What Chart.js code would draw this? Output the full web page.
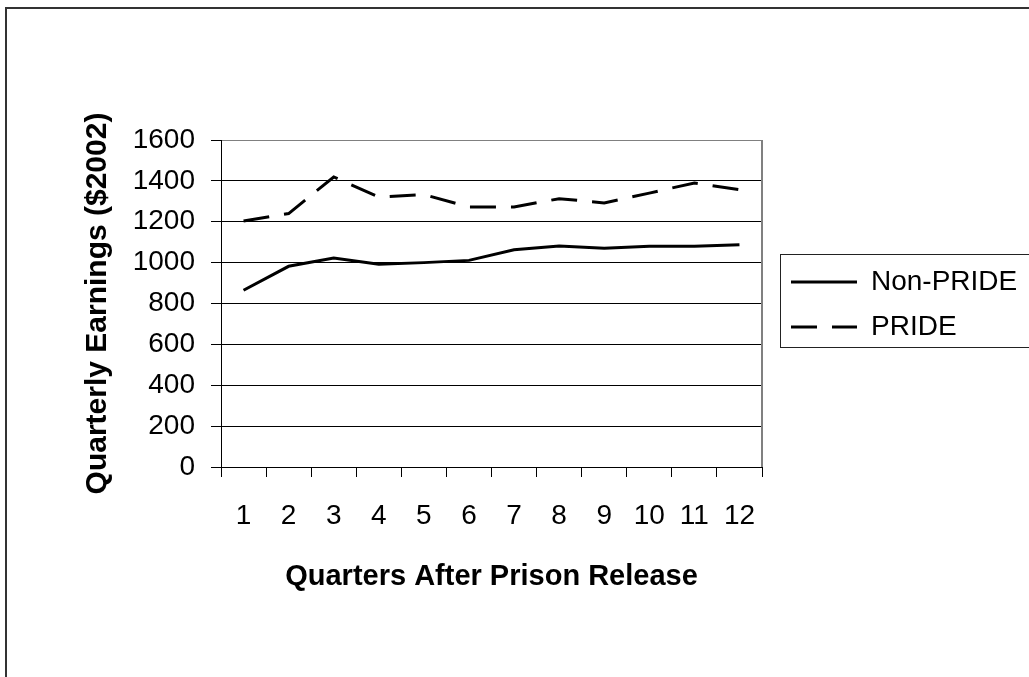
<!DOCTYPE html>
<html>
<head>
<meta charset="utf-8">
<title>Quarterly Earnings After Prison Release</title>
<script src="https://cdn.jsdelivr.net/npm/chart.js@4/dist/chart.umd.min.js"></script>
<style>
  html, body { margin: 0; padding: 0; background: #fff; }
  #wrap { width: 1029px; height: 677px; }
</style>
</head>
<body>
<div id="wrap"><canvas id="earnings-chart" width="1029" height="677"></canvas></div>
<script>
const quarters = ["1", "2", "3", "4", "5", "6", "7", "8", "9", "10", "11", "12"];
const nonPrideEarnings = [865, 982, 1022, 992, 1000, 1011, 1063, 1081, 1070, 1080, 1080, 1088];
const prideEarnings = [1204, 1240, 1419, 1321, 1333, 1272, 1272, 1313, 1292, 1340, 1390, 1357];
const earningsTicks = [0, 200, 400, 600, 800, 1000, 1200, 1400, 1600];

const FONT = "'Liberation Sans', Arial, sans-serif";

// frame, legend placement and the grey plot border
const framePlugin = {
    id: "framePlugin",
    beforeLayout(chart) {
        const legend = chart.legend;
        if (legend && !legend.fitWrapped) {
            const fit = legend.fit;
            legend.fit = function () {
                fit.call(this);
                this.width = 267;
            };
            legend.fitWrapped = true;
        }
    },
    afterLayout(chart) {
        const legend = chart.legend;
        legend.left = 774;
        legend.right = 1029;
        legend.top = 251;
        legend.bottom = 677;
    },
    beforeDraw(chart) {
        const ctx = chart.ctx;
        ctx.save();
        ctx.fillStyle = "#fff";
        ctx.fillRect(0, 0, chart.width, chart.height);
        ctx.restore();
    },
    afterDraw(chart) {
        const ctx = chart.ctx;
        const area = chart.chartArea;
        ctx.save();
        // right edge of plot area
        ctx.strokeStyle = "#808080";
        ctx.lineWidth = 2;
        ctx.beginPath();
        ctx.moveTo(area.right, area.top);
        ctx.lineTo(area.right, area.bottom);
        ctx.stroke();
        // legend box (runs off the right edge)
        ctx.strokeStyle = "#222";
        ctx.lineWidth = 1;
        ctx.strokeRect(780.5, 254.5, 300, 93);
        // outer chart frame
        ctx.strokeStyle = "#333";
        ctx.lineWidth = 2;
        ctx.strokeRect(6, 8, 1100, 750);
        ctx.restore();
    }
};

new Chart(document.getElementById("earnings-chart").getContext("2d"), {
    type: "line",
    data: {
        labels: quarters,
        datasets: [{
            label: "Non-PRIDE",
            data: nonPrideEarnings,
            borderColor: "#000",
            backgroundColor: "#000",
            borderWidth: 3,
            pointRadius: 0,
            tension: 0,
            fill: false,
            pointStyle: "line"
        }, {
            label: "PRIDE",
            data: prideEarnings,
            borderColor: "#000",
            backgroundColor: "#000",
            borderWidth: 3,
            borderDash: [26, 15],
            pointRadius: 0,
            tension: 0,
            fill: false,
            pointStyle: "line"
        }]
    },
    options: {
        responsive: false,
        animation: false,
        devicePixelRatio: 1,
        layout: {
            padding: { top: 140, left: 0, right: 0, bottom: 0 }
        },
        plugins: {
            title: { display: false },
            tooltip: { enabled: false },
            legend: {
                display: true,
                position: "right",
                align: "start",
                labels: {
                    usePointStyle: true,
                    pointStyleWidth: 66,
                    boxHeight: 28,
                    padding: 17,
                    color: "#000",
                    font: { family: FONT, size: 28 },
                    // keep the line dash and width of each series in the legend sample
                    generateLabels(chart) {
                        const items = Chart.defaults.plugins.legend.labels.generateLabels(chart);
                        items.forEach(item => {
                            const ds = chart.data.datasets[item.datasetIndex];
                            item.lineDash = ds.borderDash || [];
                            item.lineWidth = ds.borderWidth;
                            item.strokeStyle = ds.borderColor;
                        });
                        return items;
                    }
                }
            }
        },
        scales: {
            x: {
                offset: true,
                afterFit(scale) { scale.height = 210; },
                grid: {
                    offset: true,
                    drawOnChartArea: false,
                    drawTicks: true,
                    tickLength: 10,
                    color: "#000",
                    tickColor: "#000"
                },
                border: { display: true, color: "#000", width: 1 },
                ticks: {
                    color: "#000",
                    padding: 22,
                    maxRotation: 0,
                    autoSkip: false,
                    font: { family: FONT, size: 28 }
                },
                title: {
                    display: true,
                    text: "Quarters After Prison Release",
                    color: "#000",
                    padding: { top: 0, bottom: 83 },
                    font: { family: FONT, size: 29, weight: "bold" }
                }
            },
            y: {
                min: 0,
                max: 1600,
                afterFit(scale) { scale.width = 221; },
                afterBuildTicks(scale) {
                    scale.ticks = earningsTicks.map(v => ({ value: v }));
                },
                grid: {
                    drawTicks: true,
                    tickLength: 10,
                    lineWidth: 1,
                    color: ctx => (ctx.tick && ctx.tick.value === 1600 ? "#808080" : "#000"),
                    tickColor: "#000"
                },
                border: { display: true, color: "#000", width: 1 },
                ticks: {
                    color: "#000",
                    padding: 16,
                    font: { family: FONT, size: 28 },
                    callback: v => String(v)
                },
                title: {
                    display: true,
                    text: "Quarterly Earnings ($2002)",
                    color: "#000",
                    padding: { top: 80, bottom: 0 },
                    font: { family: FONT, size: 30, weight: "bold" }
                }
            }
        }
    },
    plugins: [framePlugin]
});
</script>
</body>
</html>
